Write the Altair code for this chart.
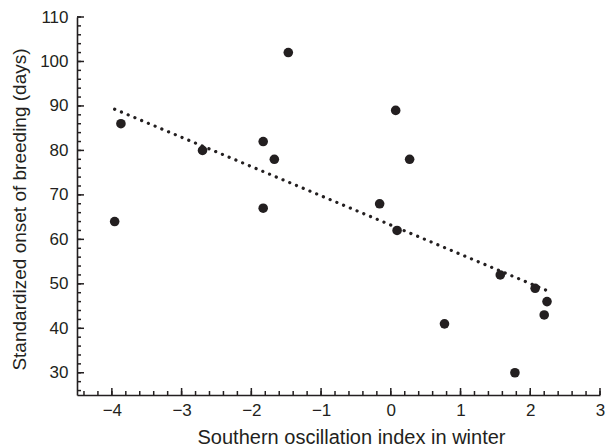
import altair as alt
import pandas as pd

# Southern oscillation index in winter vs. standardized onset of breeding
soi = [-3.96, -3.87, -2.70, -1.83, -1.67, -1.83, -1.47, 0.07, 0.27, -0.16,
       0.09, 1.57, 2.07, 2.24, 2.20, 0.77, 1.78]
onset = [64, 86, 80, 82, 78, 67, 102, 89, 78, 68, 62, 52, 49, 46, 43, 41, 30]

x_major = [-4, -3, -2, -1, 0, 1, 2, 3]
x_minor = [round(-4.4 + 0.2 * i, 1) for i in range(38)]
y_major = [30, 40, 50, 60, 70, 80, 90, 100, 110]
y_minor = list(range(26, 111, 2))

INK = "#231f20"
FONT = "Liberation Sans"
W, H = 523, 378
X_TITLE = "Southern oscillation index in winter"
Y_TITLE = "Standardized onset of breeding (days)"

df = pd.DataFrame({"x": soi, "y": onset})
xscale = alt.Scale(domain=[-4.5, 3], nice=False, zero=False)
yscale = alt.Scale(domain=[25, 110], nice=False, zero=False)

x_axis = alt.Axis(values=x_major, ticks=False, grid=False, labelPadding=7,
                  domainColor=INK, domainWidth=1.6, labelFontSize=17,
                  labelColor=INK, labelFont=FONT, titleFont=FONT,
                  titleFontSize=20, titleFontWeight="normal", titleColor=INK,
                  titleX=274, titleY=48, titleBaseline="alphabetic",
                  titleAlign="center", labelFlush=False)
y_axis = alt.Axis(values=y_major, ticks=False, grid=False, labelPadding=9,
                  domainColor=INK, domainWidth=1.6, labelFontSize=17,
                  labelColor=INK, labelFont=FONT, titleFont=FONT,
                  titleFontSize=19, titleFontWeight="normal", titleColor=INK,
                  titleX=-58, titleY=192, titleBaseline="middle",
                  titleAlign="center", titleAngle=270)


def xenc():
    return alt.X("x:Q", scale=xscale, axis=x_axis, title=X_TITLE)


def yenc():
    return alt.Y("y:Q", scale=yscale, axis=y_axis, title=Y_TITLE)


base = alt.Chart(df)

points = base.mark_circle(size=92, color=INK, opacity=1).encode(
    x=xenc(), y=yenc()
)

trend = base.transform_regression("x", "y").mark_line(
    color=INK, strokeWidth=3.2, strokeCap="round", strokeDash=[0.1, 7.2]
).encode(x=xenc(), y=yenc())


def x_ticks(vals, length):
    return alt.Chart(pd.DataFrame({"x": vals})).mark_rule(
        color=INK, strokeWidth=1.5
    ).encode(
        x=xenc(),
        y=alt.value(H),
        y2=alt.value(H - length),
    )


def y_ticks(vals, length):
    return alt.Chart(pd.DataFrame({"y": vals})).mark_rule(
        color=INK, strokeWidth=1.5
    ).encode(
        y=yenc(),
        x=alt.value(0),
        x2=alt.value(length),
    )


chart = alt.layer(
    x_ticks(x_minor, 4), x_ticks(x_major, 7),
    y_ticks(y_minor, 4), y_ticks(y_major, 7),
    trend, points,
).properties(
    width=W, height=H,
    autosize=alt.AutoSizeParams(type="none"),
    padding={"left": 77, "top": 17, "right": 6, "bottom": 51},
    background="white",
).configure_view(stroke=None)

chart.save("out.html", embed_options={"renderer": "svg", "actions": False})
